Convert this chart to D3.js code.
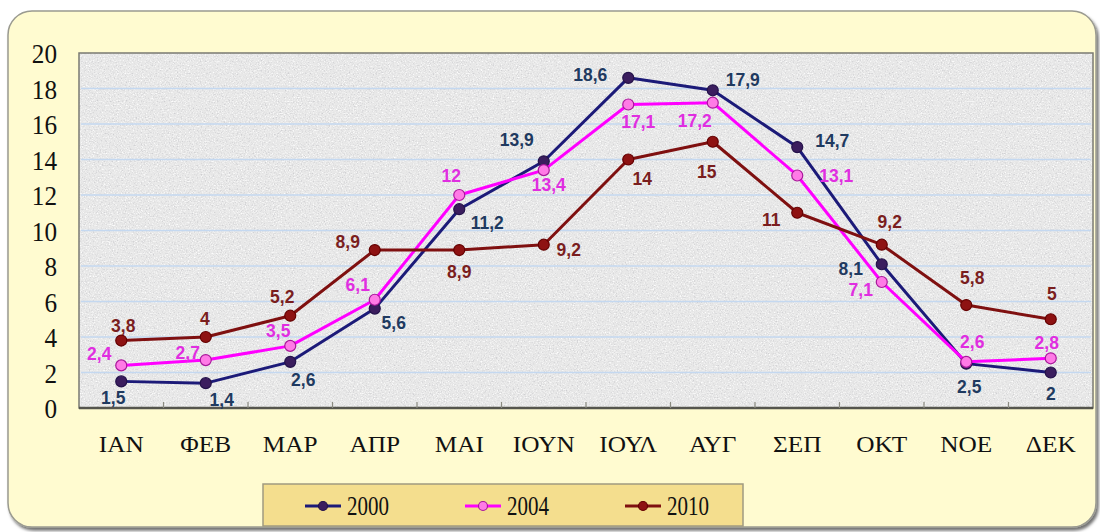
<!DOCTYPE html>
<html><head><meta charset="utf-8">
<script src="https://cdn.jsdelivr.net/npm/d3@7"></script>
<style>html,body{margin:0;padding:0;background:#fff;}svg{display:block;}</style>
</head><body>
<svg id="chart" width="1100" height="532"></svg>
<script>
const months = ["ΙΑΝ","ΦΕΒ","ΜΑΡ","ΑΠΡ","ΜΑΙ","ΙΟΥΝ","ΙΟΥΛ","ΑΥΓ","ΣΕΠ","ΟΚΤ","ΝΟΕ","ΔΕΚ"];
const years = ["2000","2004","2010"];
const values2000 = [1.5,1.4,2.6,5.6,11.2,13.9,18.6,17.9,14.7,8.1,2.5,2];
const values2004 = [2.4,2.7,3.5,6.1,12,13.4,17.1,17.2,13.1,7.1,2.6,2.8];
const values2010 = [3.8,4,5.2,8.9,8.9,9.2,14,15,11,9.2,5.8,5];
const yTicks = [0,2,4,6,8,10,12,14,16,18,20];

// label placement offsets (layout only)
const off2000 = [[-8,16],[16,17],[13,18],[19,14],[28,13],[-27,-22],[-38,-3],[30,-11],[35,-6],[-31,4],[3,23],[0,21]];
const off2004 = [[-22,-12],[-18,-7],[-12,-15],[-17,-15],[-8,-19],[5,15],[10,17],[-18,18],[39,0],[-21,8],[6,-20],[-4,-16]];
const off2010 = [[2,-15],[-1,-18],[-8,-19],[-27,-8],[0,22],[25,5],[14,19],[-6,30],[-26,7],[8,-23],[6,-27],[1,-26]];

const series = [
  {name:years[0], values:values2000, offs:off2000, line:"#1c1a78", mFill:"#3b1d5e", mStroke:"#24124a", text:"#1f3a60"},
  {name:years[1], values:values2004, offs:off2004, line:"#ff00ff", mFill:"#ff7ae6", mStroke:"#a8189a", text:"#e02ee0"},
  {name:years[2], values:values2010, offs:off2010, line:"#7f1010", mFill:"#8e1212", mStroke:"#640000", text:"#7a1e1e"}
];

const svg = d3.select("#chart");
const defs = svg.append("defs");
const f = defs.append("filter").attr("id","grain").attr("x",0).attr("y",0).attr("width","100%").attr("height","100%");
f.append("feTurbulence").attr("type","fractalNoise").attr("baseFrequency","0.75").attr("numOctaves",2).attr("seed",7).attr("result","n");
f.append("feColorMatrix").attr("in","n").attr("type","matrix").attr("result","dark")
  .attr("values","0 0 0 0 0.62  0 0 0 0 0.62  0 0 0 0 0.64  3.2 0 0 0 -1.75");
f.append("feColorMatrix").attr("in","n").attr("type","matrix").attr("result","light")
  .attr("values","0 0 0 0 1  0 0 0 0 1  0 0 0 0 1  -3.2 0 0 0 1.45");
const fm = f.append("feMerge");
fm.append("feMergeNode").attr("in","light");
fm.append("feMergeNode").attr("in","dark");

const shadow = defs.append("filter").attr("id","sh").attr("x","-5%").attr("y","-5%").attr("width","110%").attr("height","115%");
shadow.append("feDropShadow").attr("dx",2).attr("dy",3).attr("stdDeviation",1.5).attr("flood-color","#000").attr("flood-opacity",0.55);

// outer panel
svg.append("rect").attr("x",8).attr("y",11).attr("width",1088).attr("height",516)
  .attr("rx",24).attr("fill","#fffbd0").attr("stroke","#9a9a90").attr("stroke-width",1.5)
  .attr("filter","url(#sh)");

const L = 79, R = 1093, T = 53, B = 408;
const x = d3.scaleBand().domain(months).range([L,R]).padding(0);
const y = d3.scaleLinear().domain([0,20]).range([B,T]);
const cx = m => x(m) + x.bandwidth()/2;

// plot background texture
svg.append("rect").attr("x",L).attr("y",T).attr("width",R-L).attr("height",B-T).attr("fill","#e8e8e8");
svg.append("rect").attr("x",L).attr("y",T).attr("width",R-L).attr("height",B-T).attr("fill","#fff").attr("filter","url(#grain)");

// gridlines
svg.append("g").selectAll("line").data(yTicks.filter(t=>t>0 && t<20)).join("line")
  .attr("x1",L+2).attr("x2",R-2).attr("y1",d=>y(d)).attr("y2",d=>y(d))
  .attr("stroke","#c4d8f0").attr("stroke-width",1.6);

// plot border
svg.append("rect").attr("x",L).attr("y",T).attr("width",R-L).attr("height",B-T)
  .attr("fill","none").attr("stroke","#7a7a72").attr("stroke-width",1.5);
svg.append("line").attr("x1",L).attr("x2",R).attr("y1",B).attr("y2",B).attr("stroke","#55554d").attr("stroke-width",2.5);

// x ticks (category boundaries, inward)
svg.append("g").selectAll("line").data(months.slice(1)).join("line")
  .attr("x1",d=>x(d)).attr("x2",d=>x(d)).attr("y1",B).attr("y2",B-6)
  .attr("stroke","#8a8a80").attr("stroke-width",1.2);

const serif = "Liberation Serif, Times New Roman, serif";
// y axis labels
const yAxis = d3.axisLeft(y).tickValues(yTicks).tickSize(0).tickPadding(0);
const gy = svg.append("g").attr("transform",`translate(${57},0)`).call(yAxis)
  .attr("font-family",serif).attr("font-size",24);
gy.select(".domain").remove();
gy.selectAll("text").style("font-family",serif)
  .style("font-size","24px").attr("fill","#111").attr("dy","0.34em").attr("text-anchor","end")
  .attr("transform","scale(1.05,1.18)");

// x axis labels
const xAxis = d3.axisBottom(x).tickSize(0).tickPadding(0);
const gx = svg.append("g").attr("transform",`translate(0,${444})`).call(xAxis)
  .attr("font-family",serif).attr("font-size",23);
gx.select(".domain").remove();
gx.selectAll("text").style("font-family",serif)
  .style("font-size","23px").attr("fill","#111").attr("dy","0.34em").attr("y",0)
  .attr("transform","scale(1.1,1)");

// lines
const lineGen = d3.line().x((d,i)=>cx(months[i])).y(d=>y(d));
const gl = svg.append("g");
series.forEach(s=>{
  gl.append("path").datum(s.values).attr("d",lineGen).attr("fill","none")
    .attr("stroke",s.line).attr("stroke-width",3).attr("stroke-linejoin","round");
});
series.forEach(s=>{
  gl.append("g").selectAll("circle").data(s.values).join("circle")
    .attr("cx",(d,i)=>cx(months[i])).attr("cy",d=>y(d)).attr("r",5.5)
    .attr("fill",s.mFill).attr("stroke",s.mStroke).attr("stroke-width",1.2);
});
// data labels
series.forEach(s=>{
  gl.append("g").selectAll("text").data(s.values).join("text")
    .attr("x",(d,i)=>cx(months[i])+s.offs[i][0])
    .attr("y",(d,i)=>y(d)+s.offs[i][1])
    .attr("dy","0.36em").attr("text-anchor","middle")
    .style("font-family","Liberation Sans, Arial, sans-serif").attr("font-weight","bold")
    .style("font-size","17.5px").attr("fill",s.text)
    .text(d=>String(d).replace(".",","));
});

// legend
const lg = svg.append("g");
lg.append("rect").attr("x",263).attr("y",484).attr("width",480).attr("height",42)
  .attr("fill","#f4de8e").attr("stroke","#a09a80").attr("stroke-width",1.5);
const legX = [305,465,625];
series.forEach((s,i)=>{
  const g = lg.append("g").attr("transform",`translate(${legX[i]},${506})`);
  g.append("line").attr("x1",0).attr("x2",36).attr("y1",0).attr("y2",0).attr("stroke",s.line).attr("stroke-width",3);
  g.append("circle").attr("cx",18).attr("cy",0).attr("r",4.5).attr("fill",s.mFill).attr("stroke",s.mStroke).attr("stroke-width",1.2);
  g.append("text").attr("x",42).attr("y",0).attr("dy","0.34em")
    .style("font-family",serif).style("font-size","21px").attr("fill","#111")
    .attr("transform","scale(1,1.25)")
    .text(s.name);
});
</script>
</body></html>
